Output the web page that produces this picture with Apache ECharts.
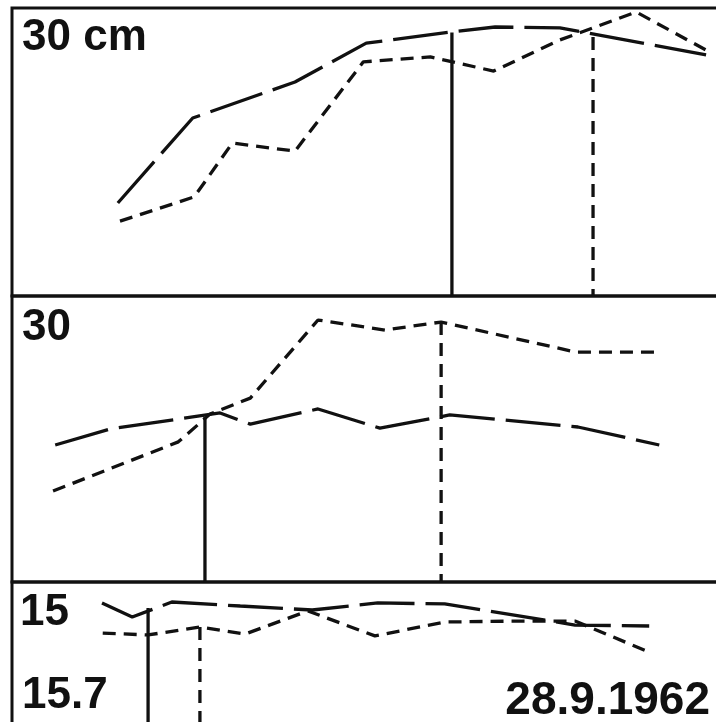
<!DOCTYPE html>
<html><head><meta charset="utf-8">
<script src="https://cdn.jsdelivr.net/npm/echarts@6/dist/echarts.min.js"></script>
<style>html,body{margin:0;padding:0;background:#fff}#c{width:716px;height:722px}</style>
</head><body><div id="c"></div>
<script>
// Panel 1 (30 cm)
const p1Solid  = [[14.7,32.3],[25.1,61.8],[39.3,74.3],[49.2,87.8],[61.1,91.7],[67.1,93.4],[76.1,93.1],[96.4,83.7]];
const p1Dashed = [[15.0,26.0],[25.3,34.4],[30.6,53.1],[39.3,50.3],[48.8,81.3],[58.1,83.0],[66.9,78.1],[76.1,88.9],[86.7,98.6],[96.4,85.4]];
const p1MaxSolid  = [61.1, 91.5];
const p1MaxDashed = [80.7, 89.9];
// Panel 2 (30)
const p2Solid  = [[6.0,47.9],[13.6,53.5],[28.9,59.1],[33.1,55.2],[42.5,60.5],[51.1,53.8],[60.8,58.4],[78.6,54.2],[89.9,47.9]];
const p2Dashed = [[5.7,31.8],[23.1,49.0],[27.5,58.7],[33.1,64.3],[42.5,91.6],[51.8,88.1],[59.6,90.9],[78.3,80.4],[89.9,80.4]];
const p2MaxSolid  = [26.8, 57.8];
const p2MaxDashed = [59.6, 90.9];
// Panel 3 (15 / 15.7)
const p3Solid  = [[12.5,86.9],[16.7,78.1],[22.2,87.5],[31.7,85.0],[41.7,82.5],[50.8,86.9],[60.1,86.3],[78.2,73.1],[88.5,72.5]];
const p3Dashed = [[12.6,68.1],[18.9,66.9],[26.1,71.9],[32.4,67.5],[41.1,81.9],[50.4,66.3],[60.1,75.0],[70.3,75.6],[78.2,75.6],[88.1,56.9]];
const p3MaxSolid  = [18.9, 83.8];
const p3MaxDashed = [26.1, 71.9];
const labels = ['30 cm', '30', '15', '15.7', '28.9.1962'];

const INK = '#111';
const LONG = [55, 11], SHORT = [13, 8];
const chart = echarts.init(document.getElementById('c'), null, {renderer: 'canvas'});
const grids = [
  {left: 12, top: 8,   width: 720, height: 288},
  {left: 12, top: 296, width: 720, height: 286},
  {left: 12, top: 582, width: 720, height: 160}
].map(g => Object.assign(g, {show: true, borderColor: INK, borderWidth: 3, backgroundColor: 'transparent',
  containLabel: false, outerBoundsMode: 'none'}));
const ax = i => ({gridIndex: i, type: 'value', min: 0, max: 100, show: false});
function line(data, dash, gi) {
  return {type: 'line', xAxisIndex: gi, yAxisIndex: gi, data: data, symbol: 'none', silent: true,
          animation: false, lineStyle: {color: INK, width: 3.3, type: dash, cap: 'butt'}};
}
function vline(pt, dash, gi) { return line([[pt[0], pt[1]], [pt[0], 0]], dash, gi); }
const series = [
  line(p1Solid, LONG, 0), line(p1Dashed, SHORT, 0), vline(p1MaxSolid, 'solid', 0), vline(p1MaxDashed, SHORT, 0),
  line(p2Solid, LONG, 1), line(p2Dashed, SHORT, 1), vline(p2MaxSolid, 'solid', 1), vline(p2MaxDashed, SHORT, 1),
  line(p3Solid, LONG, 2), line(p3Dashed, SHORT, 2), vline(p3MaxSolid, 'solid', 2), vline(p3MaxDashed, SHORT, 2)
];
const F = s => 'bold ' + s + 'px "Liberation Sans", Arial, sans-serif';
const txt = (t, x, y, size, align) => ({type: 'text', x: x, y: y, silent: true,
  style: {text: t, x: 0, y: 0, fill: INK, font: F(size), align: align || 'left', verticalAlign: 'top'}});
chart.setOption({
  animation: false,
  grid: grids,
  xAxis: [ax(0), ax(1), ax(2)],
  yAxis: [ax(0), ax(1), ax(2)],
  series: series,
  graphic: [
    txt(labels[0], 22, 16, 44),
    txt(labels[1], 22, 306, 44),
    txt(labels[2], 20, 591, 44),
    txt(labels[3], 22, 674, 44),
    txt(labels[4], 710, 678, 46, 'right')
  ]
});
</script></body></html>
